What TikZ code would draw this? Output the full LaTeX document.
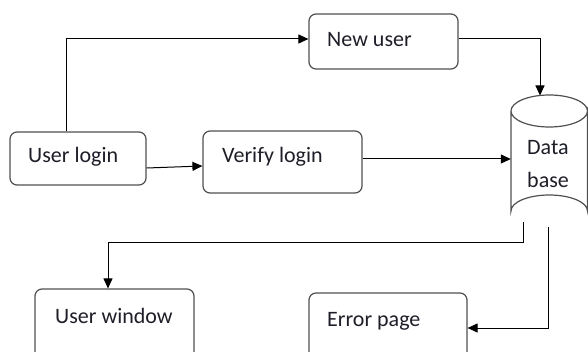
\documentclass[tikz,border=0pt]{standalone}
\usepackage{fontspec}
\setmainfont{Carlito}
\usetikzlibrary{arrows.meta,calc}
\definecolor{boxline}{HTML}{505050}
\definecolor{ink}{HTML}{1E1E28}
\tikzset{
  procbox/.style={draw=boxline, line width=1.2pt, rounded corners=7pt, inner sep=0pt},
  lbl/.style={anchor=base west, inner sep=0pt, text=ink, font=\fontsize{22}{24}\selectfont},
  arr/.style={draw=black, line width=1pt, -{Triangle[length=10pt,width=9pt]}},
  flow/.style={draw=black, line width=1pt},
}
\begin{document}
\begin{tikzpicture}[x=1pt,y=-1pt]
\useasboundingbox (0,0) rectangle (588,352);
\fill[white] (0,0) rectangle (588,352);

% process boxes
\node[procbox, minimum width=136pt, minimum height=53pt] (ul) at (78,158.5) {};
\node[procbox, minimum width=159pt, minimum height=62pt] (vl) at (282.5,162) {};
\node[procbox, minimum width=149pt, minimum height=55pt] (nu) at (383.5,41.5) {};
\node[procbox, minimum width=159pt, minimum height=76pt] (uw) at (114.5,327) {};
\node[procbox, minimum width=158pt, minimum height=70pt] (ep) at (388,328) {};

% database cylinder
\draw[boxline, line width=1.2pt]
  (511,111) -- (511,211) arc[start angle=180, end angle=360, x radius=38.25, y radius=16]
  -- (587.5,111) arc[start angle=0, end angle=360, x radius=38.25, y radius=16];
\node[minimum width=76.5pt, minimum height=100pt, inner sep=0pt] (db) at (549.25,161) {};
\coordinate (dbtop) at (540,95.5);
\coordinate (dbl) at (523,222.5);
\coordinate (dbr) at (548,227);

% labels
\node[lbl] (ult) at (28,163) {User login};
\node[lbl] (vlt) at (222,163) {Verify login};
\node[lbl] (nut) at (327,47) {New user};
\node[lbl] (dbt1) at (527,155) {Data};
\node[lbl] (dbt2) at (527,188) {base};
\node[lbl] (uwt) at (55,323) {User window};
\node[lbl] (ept) at (327,326) {Error page};

% connectors
\draw[arr] ($(ul.north)+(-12,0)$) |- ($(nu.west)+(0,-2.5)$);
\draw[arr] ($(nu.east)+(0,-2.5)$) -| (dbtop);
\draw[arr] ($(ul.east)+(0,9.5)$) -- ($(vl.west)+(0,4)$);
\draw[arr] ($(vl.east)+(0,-3)$) coordinate (vo) -- (vo -| db.west);
\draw[arr] (dbl) -- (dbl |- 0,243) -| ($(uw.north)+(-6.5,0)$);
\draw[arr] (dbr) |- (ep.east);
\end{tikzpicture}
\end{document}
